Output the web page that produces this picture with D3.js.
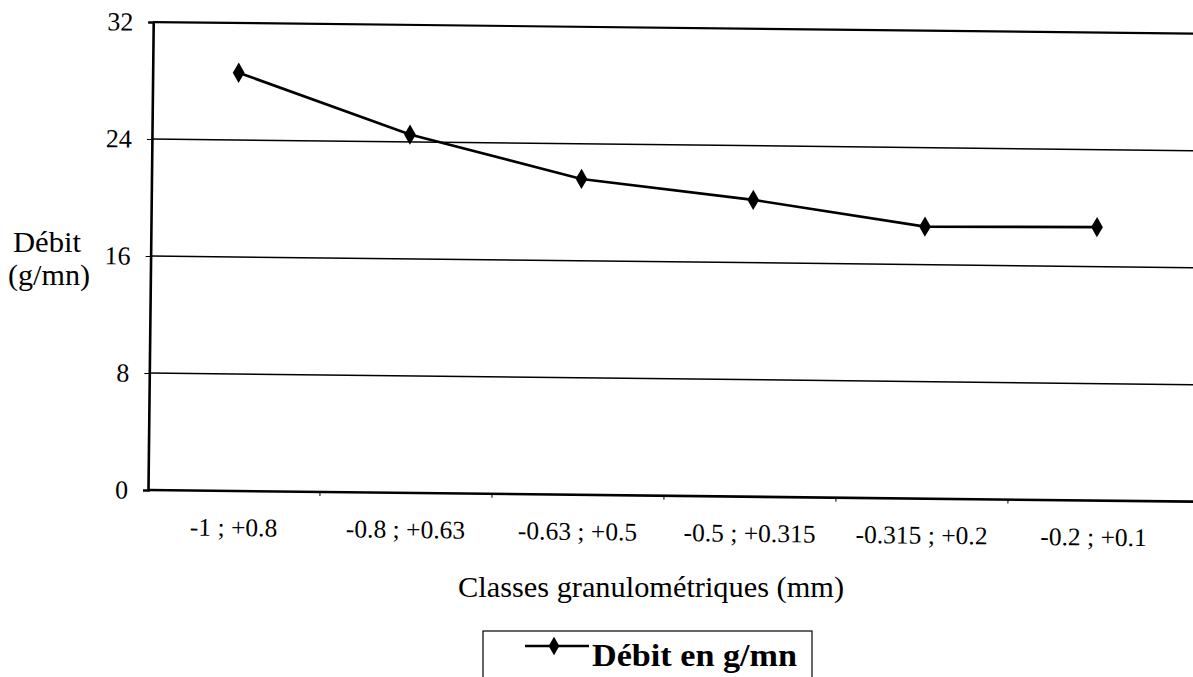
<!DOCTYPE html>
<html><head><meta charset="utf-8">
<script src="https://cdn.jsdelivr.net/npm/d3@7"></script>
<style>html,body{margin:0;padding:0;background:#fff;overflow:hidden}</style>
</head><body>
<svg id="c" width="1193" height="677"></svg>
<script>
const categories = ["-1 ; +0.8", "-0.8 ; +0.63", "-0.63 ; +0.5", "-0.5 ; +0.315", "-0.315 ; +0.2", "-0.2 ; +0.1"];
const debit = [28.6, 24.5, 21.6, 20.3, 18.6, 18.7];
const yTicks = [0, 8, 16, 24, 32];
const seriesName = "Débit en g/mn";
const yTitle = ["Débit", "(g/mn)"];
const xTitle = "Classes granulométriques (mm)";

const font = "'Liberation Serif','Times New Roman',serif";
const svg = d3.select("#c");
const ox = 148, oy = 490;
const g = svg.append("g").attr("transform", `rotate(0.64 ${ox} ${oy})`);

const x = d3.scaleBand().domain(categories).range([ox, ox + 6 * 172]).padding(0);
const y = d3.scaleLinear().domain([0, 32]).range([oy, 22]);
const rightEdge = 1205;

// gridlines
g.append("g").selectAll("line").data(yTicks.filter(t => t > 0)).join("line")
  .attr("x1", ox).attr("x2", rightEdge)
  .attr("y1", d => y(d)).attr("y2", d => y(d))
  .attr("stroke", "#000").attr("stroke-width", d => d === 32 ? 2.2 : 1.5);

// y axis
const yAxis = g.append("g").attr("transform", `translate(${ox},0)`)
  .call(d3.axisLeft(y).tickValues(yTicks).tickSize(5).tickPadding(15));
yAxis.select(".domain").attr("stroke", "#000").attr("stroke-width", 2.6);
yAxis.selectAll(".tick line").attr("stroke", "#000").attr("stroke-width", 1);
yAxis.selectAll("text").style("font-family", font).style("font-size", "26px").attr("fill", "#000");

// x axis
const xAxis = g.append("g").attr("transform", `translate(0,${oy})`)
  .call(d3.axisBottom(x).tickSize(0).tickPadding(27));
xAxis.select(".domain").attr("d", `M${ox},0H${rightEdge}`).attr("stroke", "#000").attr("stroke-width", 2.6);
xAxis.selectAll("text").style("font-family", font).style("font-size", "25.5px").attr("fill", "#000");
// small boundary ticks
g.append("g").selectAll("line").data(categories.slice(1)).join("line")
  .attr("x1", d => x(d)).attr("x2", d => x(d))
  .attr("y1", oy).attr("y2", oy + 4).attr("stroke", "#000").attr("stroke-width", 1);

// line
const line = d3.line().x((d, i) => x(categories[i]) + x.bandwidth() / 2).y(d => y(d));
g.append("path").datum(debit).attr("d", line)
  .attr("fill", "none").attr("stroke", "#000").attr("stroke-width", 2.6);
const sym = d3.symbol().type(d3.symbolDiamond).size(120);
g.append("g").selectAll("path").data(debit).join("path")
  .attr("transform", (d, i) => `translate(${x(categories[i]) + x.bandwidth() / 2},${y(d)})`)
  .attr("d", sym).attr("fill", "#000");

// y title
svg.append("text").attr("x", 13).attr("y", 252).attr("textLength", 68).attr("lengthAdjust", "spacingAndGlyphs")
  .style("font-family", font).style("font-size", "29px").text(yTitle[0]);
svg.append("text").attr("x", 8).attr("y", 285).attr("textLength", 82).attr("lengthAdjust", "spacingAndGlyphs")
  .style("font-family", font).style("font-size", "29px").text(yTitle[1]);

// x title
svg.append("text").attr("x", 458).attr("y", 597).attr("textLength", 386).attr("lengthAdjust", "spacingAndGlyphs")
  .style("font-family", font).style("font-size", "30px").text(xTitle);

// legend
const lg = svg.append("g");
lg.append("rect").attr("x", 483).attr("y", 631).attr("width", 329).attr("height", 60)
  .attr("fill", "none").attr("stroke", "#000").attr("stroke-width", 1.2);
lg.append("line").attr("x1", 525).attr("x2", 589).attr("y1", 646).attr("y2", 646)
  .attr("stroke", "#000").attr("stroke-width", 2.6);
lg.append("path").attr("transform", "translate(554,646)").attr("d", d3.symbol().type(d3.symbolDiamond).size(100)).attr("fill", "#000");
lg.append("text").attr("x", 592).attr("y", 666).attr("textLength", 205).attr("lengthAdjust", "spacingAndGlyphs")
  .style("font-family", font).style("font-size", "32px").style("font-weight", "bold").text(seriesName);
</script>
</body></html>
